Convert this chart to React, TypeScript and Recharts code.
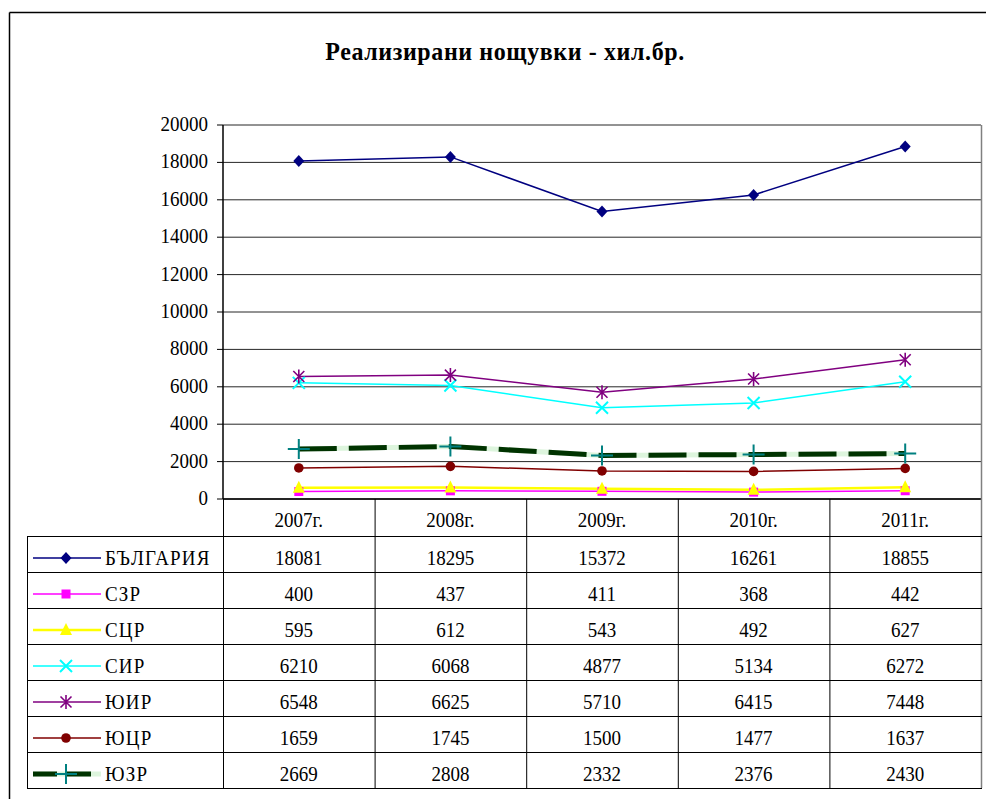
import React from "react";
import { CartesianGrid, Line, LineChart, XAxis, YAxis } from "recharts";

const years = ["2007г.", "2008г.", "2009г.", "2010г.", "2011г."];
const bulgaria = [18081, 18295, 15372, 16261, 18855];
const szr = [400, 437, 411, 368, 442];
const scr = [595, 612, 543, 492, 627];
const sir = [6210, 6068, 4877, 5134, 6272];
const yuir = [6548, 6625, 5710, 6415, 7448];
const yucr = [1659, 1745, 1500, 1477, 1637];
const yuzr = [2669, 2808, 2332, 2376, 2430];
const yTicks = [0, 2000, 4000, 6000, 8000, 10000, 12000, 14000, 16000, 18000, 20000];

type Shape = "diamond" | "square" | "triangle" | "x" | "star" | "circle" | "plus";
type Series = { key: string; name: string; values: number[]; color: string; shape: Shape; markerColor: string };

const series: Series[] = [
  { key: "bg", name: "БЪЛГАРИЯ", values: bulgaria, color: "#000080", shape: "diamond", markerColor: "#000080" },
  { key: "szr", name: "СЗР", values: szr, color: "#ff00ff", shape: "square", markerColor: "#ff00ff" },
  { key: "scr", name: "СЦР", values: scr, color: "#ffff00", shape: "triangle", markerColor: "#ffff00" },
  { key: "sir", name: "СИР", values: sir, color: "#00ffff", shape: "x", markerColor: "#00ffff" },
  { key: "yuir", name: "ЮИР", values: yuir, color: "#800080", shape: "star", markerColor: "#800080" },
  { key: "yucr", name: "ЮЦР", values: yucr, color: "#800000", shape: "circle", markerColor: "#800000" },
  { key: "yuzr", name: "ЮЗР", values: yuzr, color: "#003300", shape: "plus", markerColor: "#008080" },
];

const data = years.map((year, i) => {
  const row: Record<string, string | number> = { year };
  series.forEach((s) => (row[s.key] = s.values[i]));
  return row;
});

const FONT = '"Liberation Serif", "Times New Roman", serif';
const STRETCH = 1.15; // the source text is drawn a little taller than wide

// chart geometry
const W = 986;
const H = 799;
const PLOT_LEFT = 223;
const PLOT_RIGHT = 981;
const PLOT_TOP = 125;
const PLOT_BOTTOM = 499;
const ROW_H = 36;
const TABLE_LEFT = 27;
const BAND = (PLOT_RIGHT - PLOT_LEFT) / years.length;

function Marker({ shape, cx, cy, color }: { shape: Shape; cx: number; cy: number; color: string }) {
  switch (shape) {
    case "diamond":
      return <path d={`M${cx},${cy - 6}L${cx + 5.5},${cy}L${cx},${cy + 6}L${cx - 5.5},${cy}Z`} fill={color} />;
    case "square":
      return <rect x={cx - 4.5} y={cy - 4.5} width={9} height={9} fill={color} />;
    case "triangle":
      return <path d={`M${cx},${cy - 7}L${cx + 6},${cy + 5}L${cx - 6},${cy + 5}Z`} fill={color} />;
    case "x":
      return (
        <path d={`M${cx - 6},${cy - 6}L${cx + 6},${cy + 6}M${cx + 6},${cy - 6}L${cx - 6},${cy + 6}`} stroke={color} strokeWidth={2} />
      );
    case "star":
      return (
        <path
          d={`M${cx - 5.5},${cy - 5.5}L${cx + 5.5},${cy + 5.5}M${cx + 5.5},${cy - 5.5}L${cx - 5.5},${cy + 5.5}M${cx},${cy - 7}L${cx},${cy + 7}`}
          stroke={color}
          strokeWidth={1.6}
        />
      );
    case "circle":
      return <circle cx={cx} cy={cy} r={4.8} fill={color} />;
    case "plus":
      return <path d={`M${cx - 11},${cy}L${cx + 11},${cy}M${cx},${cy - 10}L${cx},${cy + 10}`} stroke={color} strokeWidth={2} />;
  }
}

function Label({
  x,
  y,
  anchor = "middle",
  spacing = 0,
  children,
}: {
  x: number;
  y: number;
  anchor?: "start" | "middle" | "end";
  spacing?: number;
  children: React.ReactNode;
}) {
  return (
    <text
      transform={`translate(${x},${y}) scale(1,${STRETCH})`}
      textAnchor={anchor}
      fontFamily={FONT}
      fontSize={19}
      letterSpacing={spacing}
      fill="#000"
    >
      {children}
    </text>
  );
}

const YearTick = (props: any) => {
  const { x, y, payload } = props;
  return <Label x={x} y={y + 26}>{payload.value}</Label>;
};

const ValueTick = (props: any) => {
  const { x, y, payload } = props;
  return (
    <Label x={x} y={y + 6} anchor="end">
      {payload.value}
    </Label>
  );
};

function Table() {
  const rowTop = (i: number) => PLOT_BOTTOM + 37 + i * ROW_H;
  const bottom = rowTop(series.length);
  return (
    <svg width={W} height={H} style={{ position: "absolute", left: 0, top: 0, pointerEvents: "none" }}>
      {/* outer frame */}
      <line x1={9.5} y1={12.5} x2={W} y2={12.5} stroke="#000" strokeWidth={1.5} />
      <line x1={9.5} y1={12.5} x2={9.5} y2={H} stroke="#000" strokeWidth={1.5} />
      <text
        transform={`translate(505,60) scale(1,1.08)`}
        textAnchor="middle"
        fontFamily={FONT}
        fontSize={24}
        fontWeight="bold"
        letterSpacing={0.6}
      >
        Реализирани нощувки - хил.бр.
      </text>
      {/* plot right edge */}
      <line x1={PLOT_RIGHT + 0.5} y1={PLOT_TOP} x2={PLOT_RIGHT + 0.5} y2={bottom} stroke="#808080" strokeWidth={1.5} />
      {/* column lines */}
      {years.map((_, i) => (
        <line
          key={i}
          x1={PLOT_LEFT + i * BAND + 0.5}
          y1={PLOT_BOTTOM}
          x2={PLOT_LEFT + i * BAND + 0.5}
          y2={bottom}
          stroke="#000"
        />
      ))}
      <line x1={TABLE_LEFT + 0.5} y1={rowTop(0)} x2={TABLE_LEFT + 0.5} y2={bottom} stroke="#000" />
      {series.map((s, i) => (
        <line key={s.key} x1={TABLE_LEFT} y1={rowTop(i) + 0.5} x2={PLOT_RIGHT + 1} y2={rowTop(i) + 0.5} stroke="#000" />
      ))}
      <line x1={TABLE_LEFT} y1={bottom + 0.5} x2={PLOT_RIGHT + 1} y2={bottom + 0.5} stroke="#000" />
      {series.map((s, i) => {
        const ly = rowTop(i) + 22;
        return (
          <g key={s.key}>
            {s.shape === "plus" ? (
              <>
                <line x1={33} y1={ly} x2={101} y2={ly} stroke="#ddf5dd" strokeWidth={5} />
                <line x1={33} y1={ly} x2={101} y2={ly} stroke={s.color} strokeWidth={5} strokeDasharray="24 10" />
              </>
            ) : (
              <line x1={33} y1={ly} x2={101} y2={ly} stroke={s.color} strokeWidth={s.shape === "triangle" ? 2.5 : 1.5} />
            )}
            <Marker shape={s.shape} cx={66} cy={ly} color={s.markerColor} />
            <Label x={105} y={rowTop(i) + 29} anchor="start" spacing={1.2}>
              {s.name}
            </Label>
            {s.values.map((v, j) => (
              <Label key={j} x={PLOT_LEFT + (j + 0.5) * BAND} y={rowTop(i) + 29}>
                {v}
              </Label>
            ))}
          </g>
        );
      })}
    </svg>
  );
}

export default function App() {
  return (
    <div style={{ position: "absolute", left: 0, top: 0, width: W, height: H, background: "#fff", overflow: "hidden" }}>
      <LineChart
        width={W}
        height={H}
        data={data}
        margin={{ top: PLOT_TOP, right: W - PLOT_RIGHT, left: PLOT_LEFT - 80, bottom: 0 }}
      >
        <CartesianGrid vertical={false} stroke="#000" strokeOpacity={0.85} />
        <XAxis
          dataKey="year"
          height={H - PLOT_BOTTOM}
          axisLine={{ stroke: "#000", strokeWidth: 1.5 }}
          tickLine={false}
          tickSize={0}
          padding={{ left: BAND / 2, right: BAND / 2 }}
          tick={<YearTick />}
          interval={0}
        />
        <YAxis
          width={80}
          domain={[0, 20000]}
          ticks={yTicks}
          interval={0}
          axisLine={{ stroke: "#000", strokeWidth: 1.5 }}
          tickLine={{ stroke: "#000" }}
          tickSize={6}
          tickMargin={9}
          tick={<ValueTick />}
        />
        <Line
          dataKey="yuzr"
          stroke="#ddf5dd"
          strokeWidth={5}
          dot={false}
          activeDot={false}
          isAnimationActive={false}
        />
        {series.map((s) => (
          <Line
            key={s.key}
            dataKey={s.key}
            name={s.name}
            stroke={s.color}
            strokeWidth={s.shape === "plus" ? 5 : s.shape === "triangle" ? 2.5 : 1.5}
            strokeDasharray={s.shape === "plus" ? "38 12" : undefined}
            dot={(p: any) => <Marker key={p.index} shape={s.shape} cx={p.cx} cy={p.cy} color={s.markerColor} />}
            activeDot={false}
            isAnimationActive={false}
          />
        ))}
      </LineChart>
      <Table />
    </div>
  );
}
